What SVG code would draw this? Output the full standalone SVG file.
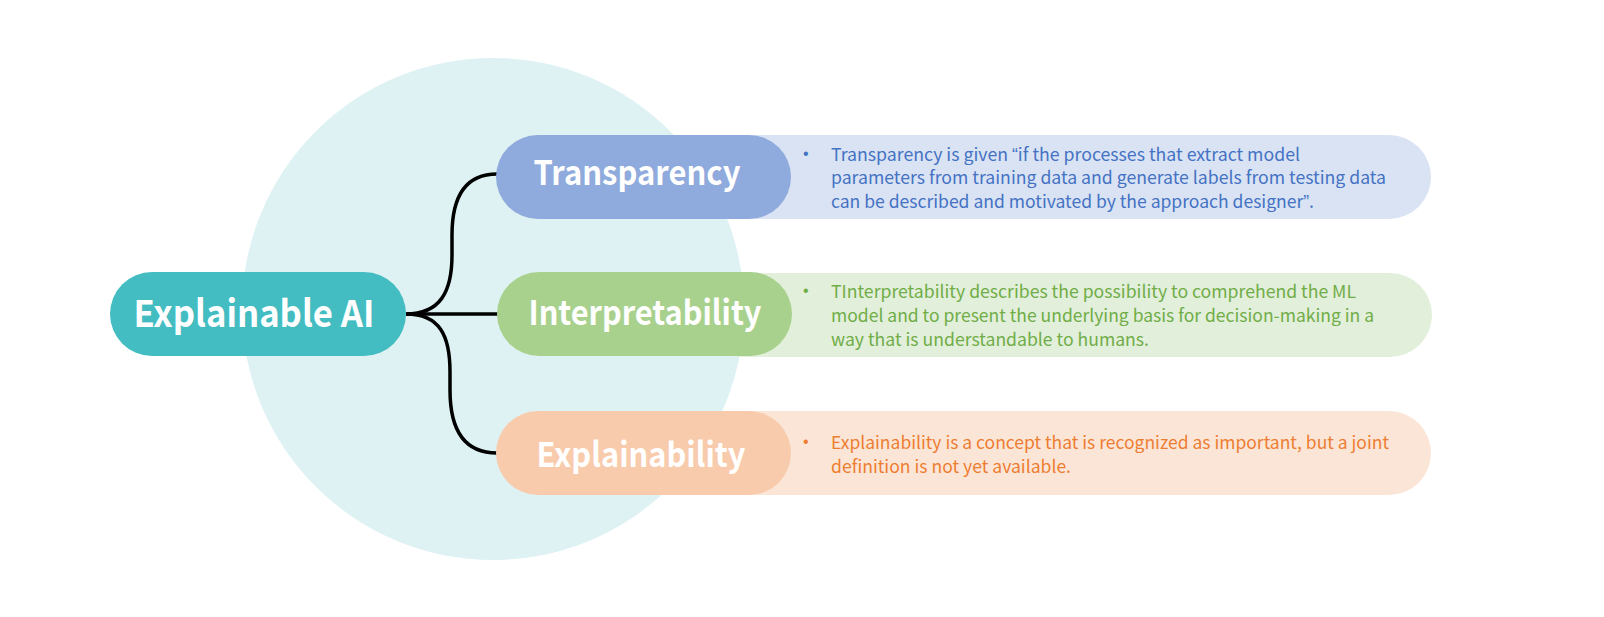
<svg xmlns="http://www.w3.org/2000/svg" width="1604" height="617" viewBox="0 0 1604 617">
  <style>
    .title { font-family: "Noto Sans CJK SC", "Noto Sans", sans-serif; font-weight: 700; fill: #FFFFFF; text-anchor: middle; }
    .body { font-family: "Noto Sans CJK SC", "Noto Sans", sans-serif; font-size: 17.5px; }
    .latin { font-family: "Liberation Sans", "Noto Sans", sans-serif; }
    .dot { font-family: "Liberation Sans", sans-serif; font-size: 16px; }
    .link { fill: none; stroke: #000000; stroke-width: 3.5; }
    .blue { fill: #4472C4; }
    .green { fill: #70AD47; }
    .orange { fill: #ED7D31; }
  </style>

  <!-- backdrop circle -->
  <circle cx="493" cy="309" r="251" fill="#DFF2F3"/>

  <!-- description strips, drawn behind the labelled pills -->
  <g id="transparency-desc">
    <rect x="700" y="135" width="731" height="84" rx="42" fill="#DAE3F3"/>
    <text class="dot blue" x="803" y="159">•</text>
    <text class="body blue" x="831" y="161" textLength="469" lengthAdjust="spacingAndGlyphs">Transparency is given <tspan class="latin">“</tspan>if the processes that extract model</text>
    <text class="body blue" x="831" y="184" textLength="555" lengthAdjust="spacingAndGlyphs">parameters from training data and generate labels from testing data</text>
    <text class="body blue" x="831" y="208" textLength="483" lengthAdjust="spacingAndGlyphs">can be described and motivated by the approach designer<tspan class="latin">”</tspan>.</text>
  </g>
  <g id="interpretability-desc">
    <rect x="700" y="273" width="732" height="84" rx="42" fill="#E2EFDA"/>
    <text class="dot green" x="803" y="296">•</text>
    <text class="body green" x="831" y="298" textLength="525" lengthAdjust="spacingAndGlyphs">TInterpretability describes the possibility to comprehend the ML</text>
    <text class="body green" x="831" y="322" textLength="543" lengthAdjust="spacingAndGlyphs">model and to present the underlying basis for decision-making in a</text>
    <text class="body green" x="831" y="346" textLength="318" lengthAdjust="spacingAndGlyphs">way that is understandable to humans.</text>
  </g>
  <g id="explainability-desc">
    <rect x="700" y="411" width="731" height="84" rx="42" fill="#FBE5D6"/>
    <text class="dot orange" x="803" y="447">•</text>
    <text class="body orange" x="831" y="449" textLength="558" lengthAdjust="spacingAndGlyphs">Explainability is a concept that is recognized as important, but a joint</text>
    <text class="body orange" x="831" y="473" textLength="240" lengthAdjust="spacingAndGlyphs">definition is not yet available.</text>
  </g>

  <!-- connectors -->
  <g id="connectors">
    <path class="link" d="M406,314 C440,314 452,292 452,255 L452,235 C452,198 464,174 497,174"/>
    <path class="link" d="M406,314 L498,314"/>
    <path class="link" d="M406,314 C440,314 450,336 450,372 L450,390 C450,428 463,453 497,453"/>
  </g>

  <g id="explainable-ai">
    <rect x="110" y="272" width="296" height="84" rx="42" fill="#43BDC1"/>
    <text class="title" x="254" y="327" font-size="37" textLength="241" lengthAdjust="spacingAndGlyphs">Explainable AI</text>
  </g>
  <g id="transparency">
    <rect x="496" y="135" width="295" height="84" rx="42" fill="#8FAADC"/>
    <text class="title" x="637" y="185" font-size="34" textLength="207" lengthAdjust="spacingAndGlyphs">Transparency</text>
  </g>
  <g id="interpretability">
    <rect x="497" y="272" width="295" height="84" rx="42" fill="#A9D18E"/>
    <text class="title" x="645" y="325" font-size="34" textLength="233" lengthAdjust="spacingAndGlyphs">Interpretability</text>
  </g>
  <g id="explainability">
    <rect x="496" y="411" width="295" height="84" rx="42" fill="#F8CBAD"/>
    <text class="title" x="641" y="467" font-size="34" textLength="209" lengthAdjust="spacingAndGlyphs">Explainability</text>
  </g>
</svg>
